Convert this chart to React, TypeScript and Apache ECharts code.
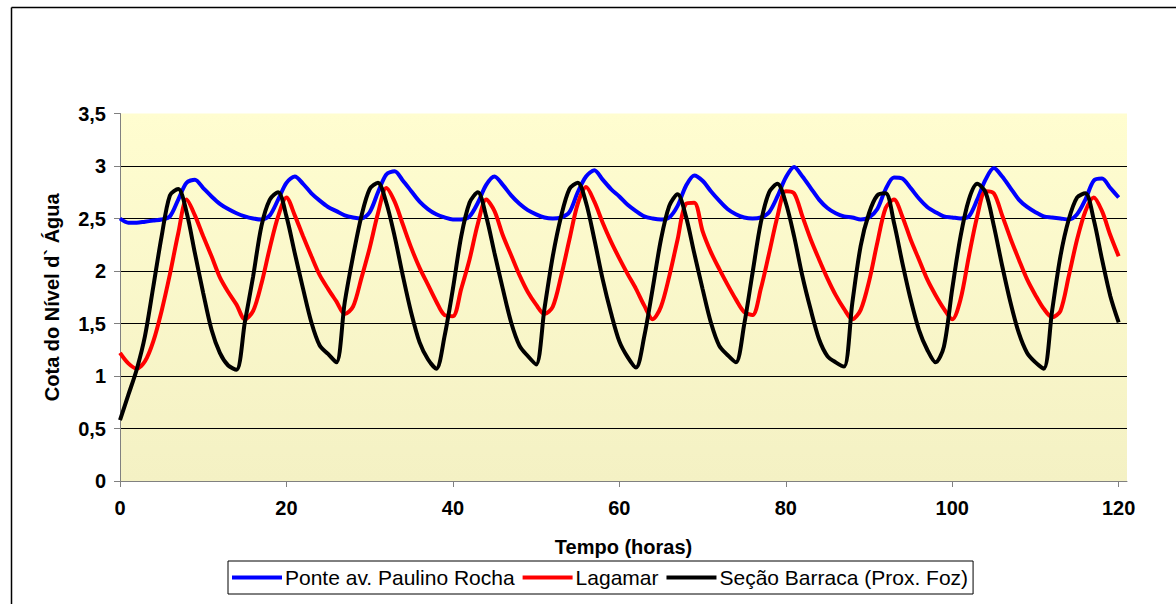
import React, { useEffect, useRef } from "react";
import * as echarts from "echarts";

const HOURS: number[] = Array.from({ length: 121 }, (_, i) => i);
const X_TICKS = [0, 20, 40, 60, 80, 100, 120];

const PONTE = [
  2.50, 2.46, 2.46, 2.47, 2.48, 2.49, 2.52, 2.68, 2.84, 2.87,
  2.79, 2.71, 2.64, 2.59, 2.55, 2.52, 2.50, 2.49, 2.53, 2.68,
  2.84, 2.90, 2.83, 2.74, 2.67, 2.61, 2.57, 2.53, 2.51, 2.50,
  2.56, 2.75, 2.92, 2.95, 2.86, 2.76, 2.66, 2.59, 2.54, 2.51,
  2.49, 2.49, 2.52, 2.65, 2.82, 2.90, 2.82, 2.72, 2.64, 2.58,
  2.54, 2.51, 2.50, 2.51, 2.56, 2.75, 2.90, 2.96, 2.87, 2.78,
  2.71, 2.63, 2.57, 2.52, 2.50, 2.49, 2.51, 2.62, 2.81, 2.91,
  2.86, 2.76, 2.67, 2.59, 2.54, 2.51, 2.50, 2.51, 2.56, 2.71,
  2.89, 2.99, 2.90, 2.79, 2.68, 2.60, 2.55, 2.52, 2.51, 2.49,
  2.51, 2.59, 2.78, 2.89, 2.88, 2.79, 2.69, 2.61, 2.56, 2.52,
  2.51, 2.50, 2.52, 2.68, 2.87, 2.98, 2.90, 2.79, 2.68, 2.61,
  2.56, 2.52, 2.51, 2.50, 2.49, 2.54, 2.68, 2.86, 2.88, 2.79,
  2.70,
];

const LAGAMAR = [
  1.22, 1.12, 1.07, 1.14, 1.33, 1.62, 1.97, 2.36, 2.68, 2.53,
  2.33, 2.14, 1.94, 1.80, 1.68, 1.54, 1.62, 1.88, 2.22, 2.52,
  2.70, 2.53, 2.33, 2.14, 1.96, 1.83, 1.71, 1.59, 1.66, 1.93,
  2.22, 2.55, 2.79, 2.66, 2.44, 2.22, 2.03, 1.87, 1.71, 1.58,
  1.57, 1.83, 2.11, 2.45, 2.68, 2.57, 2.34, 2.15, 1.96, 1.80,
  1.68, 1.59, 1.66, 1.95, 2.30, 2.64, 2.80, 2.66, 2.46, 2.28,
  2.12, 1.97, 1.83, 1.67, 1.54, 1.66, 1.95, 2.30, 2.64, 2.65,
  2.38, 2.18, 2.02, 1.87, 1.73, 1.61, 1.58, 1.83, 2.17, 2.52,
  2.76, 2.74, 2.52, 2.30, 2.11, 1.93, 1.77, 1.64, 1.54, 1.63,
  1.90, 2.27, 2.60, 2.68, 2.52, 2.30, 2.11, 1.92, 1.77, 1.64,
  1.54, 1.73, 2.14, 2.52, 2.76, 2.74, 2.53, 2.31, 2.11, 1.92,
  1.77, 1.64, 1.56, 1.62, 1.95, 2.30, 2.57, 2.70, 2.57, 2.34,
  2.14,
];

const BARRACA = [
  0.58, 0.82, 1.06, 1.38, 1.85, 2.33, 2.72, 2.78, 2.56, 2.17,
  1.79, 1.44, 1.22, 1.10, 1.06, 1.51, 1.95, 2.43, 2.68, 2.75,
  2.52, 2.17, 1.83, 1.51, 1.29, 1.21, 1.13, 1.70, 2.14, 2.52,
  2.78, 2.84, 2.65, 2.33, 1.95, 1.60, 1.32, 1.16, 1.07, 1.38,
  1.83, 2.33, 2.65, 2.75, 2.52, 2.17, 1.83, 1.51, 1.29, 1.19,
  1.11, 1.64, 2.14, 2.52, 2.78, 2.84, 2.65, 2.30, 1.92, 1.60,
  1.33, 1.18, 1.08, 1.38, 1.83, 2.30, 2.62, 2.73, 2.52, 2.17,
  1.83, 1.51, 1.29, 1.20, 1.13, 1.49, 1.98, 2.46, 2.75, 2.83,
  2.65, 2.33, 1.95, 1.63, 1.35, 1.19, 1.13, 1.09, 1.70, 2.24,
  2.55, 2.72, 2.74, 2.46, 2.08, 1.73, 1.44, 1.25, 1.13, 1.28,
  1.83, 2.33, 2.68, 2.83, 2.75, 2.43, 2.05, 1.70, 1.41, 1.22,
  1.13, 1.07, 1.62, 2.14, 2.49, 2.70, 2.74, 2.49, 2.11, 1.76,
  1.51,
];

const SERIES_NAMES = [
  "Ponte av. Paulino Rocha",
  "Lagamar",
  "Seção Barraca (Prox. Foz)",
];
const SERIES_COLORS = ["#0000FF", "#FF0000", "#000000"];
const SERIES_VALUES = [PONTE, LAGAMAR, BARRACA];

const FONT = "'Liberation Sans', Arial, sans-serif";

export default function App() {
  const ref = useRef<HTMLDivElement>(null);

  useEffect(() => {
    document.body.style.margin = "0";
    const chart = echarts.init(ref.current!, null, { renderer: "svg" });
    const option: any = {
      animation: false,
      backgroundColor: "#FFFFFF",
      textStyle: { fontFamily: FONT },
      grid: {
        left: 120,
        top: 113.5,
        width: 1007,
        height: 367.5,
        show: true,
        borderWidth: 0,
        backgroundColor: {
          type: "linear",
          x: 0,
          y: 0,
          x2: 0,
          y2: 1,
          colorStops: [
            { offset: 0, color: "#FFFDD0" },
            { offset: 1, color: "#F4F1C4" },
          ],
        },
      },
      graphic: [
        {
          type: "line",
          shape: { x1: 11.5, y1: 7.5, x2: 1176, y2: 7.5 },
          style: { stroke: "#000", lineWidth: 1.5 },
        },
        {
          type: "line",
          shape: { x1: 11.5, y1: 7.5, x2: 11.5, y2: 604 },
          style: { stroke: "#000", lineWidth: 1.5 },
        },
      ],
      legend: {
        left: 228,
        top: 561,
        orient: "horizontal",
        padding: [6, 5, 6, 4],
        itemGap: 8,
        itemWidth: 50,
        itemHeight: 4,
        borderColor: "#000",
        borderWidth: 1,
        icon: "rect",
        textStyle: { fontFamily: FONT, fontSize: 21, color: "#000", padding: [0, 0, 0, -2] },
        data: SERIES_NAMES,
      },
      xAxis: {
        type: "value",
        min: 0,
        max: 121,
        interval: 20,
        name: "Tempo (horas)",
        nameLocation: "middle",
        nameGap: 56,
        nameTextStyle: { fontFamily: FONT, fontSize: 20, fontWeight: "bold", color: "#000" },
        axisLine: { show: true, lineStyle: { color: "#808080", width: 1 } },
        axisTick: { show: true, length: 6, lineStyle: { color: "#808080" }, customValues: X_TICKS },
        axisLabel: {
          customValues: X_TICKS,
          margin: 17,
          fontFamily: FONT,
          fontSize: 20,
          fontWeight: "bold",
          color: "#000",
        },
        splitLine: { show: false },
      },
      yAxis: {
        type: "value",
        min: 0,
        max: 3.5,
        interval: 0.5,
        name: "Cota do Nível d` Água",
        nameLocation: "middle",
        nameGap: 58,
        nameTextStyle: { fontFamily: FONT, fontSize: 20, fontWeight: "bold", color: "#000" },
        axisLine: { show: true, lineStyle: { color: "#808080", width: 1 } },
        axisTick: { show: true, length: 6, lineStyle: { color: "#808080" } },
        axisLabel: {
          margin: 14,
          fontFamily: FONT,
          fontSize: 20,
          fontWeight: "bold",
          color: "#000",
          formatter: (v: number) => String(v).replace(".", ","),
        },
        splitLine: {
          show: true,
          showMinLine: false,
          showMaxLine: false,
          lineStyle: { color: "#000", width: 1 },
        },
      },
      series: SERIES_NAMES.map((name, k) => ({
        name,
        type: "line",
        showSymbol: false,
        symbol: "none",
        smooth: 0.3,
        color: SERIES_COLORS[k],
        lineStyle: { color: SERIES_COLORS[k], width: 4 },
        data: HOURS.map((h, i) => [h, SERIES_VALUES[k][i]]),
      })),
    };
    chart.setOption(option);
    return () => chart.dispose();
  }, []);

  return <div ref={ref} style={{ width: 1176, height: 604 }} />;
}
